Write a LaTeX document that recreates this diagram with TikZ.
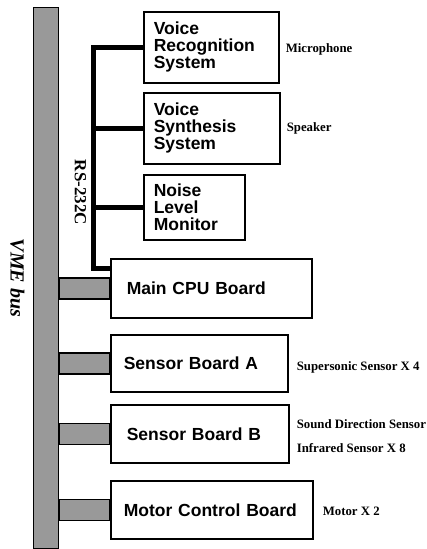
\documentclass[tikz,border=0pt]{standalone}
\usepackage{fontspec}
\setmainfont{Liberation Serif}
\newfontfamily\boardfont{Liberation Sans}
\usepackage{tikz}
\usetikzlibrary{positioning}
\tikzset{every node/.style={font=\small}}

\begin{document}
\begin{tikzpicture}[
  x=1pt, y=-1pt,
  board/.style={
    draw,
    line width=1.6pt,
    anchor=north west,
    align=left,
    inner xsep=13pt,
    inner ysep=0pt,
    font=\boardfont\bfseries\fontsize{17.5}{17}\selectfont
  },
  busfill/.style={draw, line width=1.4pt, fill=black!40},
  rsline/.style={line width=5pt},
  devlabel/.style={inner sep=0pt, align=left,
    font=\bfseries\fontsize{12.8}{24}\selectfont}
]
\useasboundingbox (0,0) rectangle (427,549);

\node (bus) [busfill, anchor=north west, inner sep=0pt,
  minimum width=25pt, minimum height=541pt] at (33,7) {};
\node (vme) [rotate=-90, font=\bfseries\itshape\fontsize{20}{20}\selectfont]
  at (17.5,278) {VME bus};

\node (vr) [board, inner xsep=10pt, text width=115pt, minimum height=71pt]
  at (143,11) {Voice\\Recognition\\System};
\node (vs) [board, inner xsep=10pt, text width=116pt, minimum height=71pt]
  at (143,92) {Voice\\Synthesis\\System};
\node (nlm) [board, inner xsep=10pt, text width=81pt, minimum height=65pt]
  at (143,174) {Noise\\Level\\Monitor};

\node (cpu) [board, inner xsep=16pt, text width=169pt, minimum height=59pt]
  at (110,258) {Main CPU Board};
\node (sa) [board, text width=151pt, minimum height=57pt]
  at (110,334) {Sensor Board A};
\node (sb) [board, inner xsep=16pt, text width=146pt, minimum height=58pt]
  at (110,404) {Sensor Board B};
\node (mc) [board, text width=176pt, minimum height=58pt]
  at (110,480) {Motor Control Board};

\node (mic) [devlabel, right=6pt of vr, yshift=-2.5pt] {Microphone};
\node (spk) [devlabel, right=6pt of vs] {Speaker};
\node (sonic) [devlabel, right=8pt of sa, yshift=-4pt] {Supersonic Sensor X 4};
\node (sdir) [devlabel, right=7pt of sb, yshift=-2pt]
  {Sound Direction Sensor\\Infrared Sensor X 8};
\node (mot) [devlabel, right=9pt of mc, yshift=-2pt] {Motor X 2};

\foreach \b in {cpu,sa,sb,mc}
  \draw[busfill] ([yshift=10.5pt]\b.west) rectangle ([yshift=-10.5pt]\b.west -| bus.east);

\coordinate (rsbot) at (93.5,268);
\draw[rsline] (vr.west) -| (rsbot) -- (rsbot -| cpu.west);
\draw[rsline] (vs.west) -- (vs.west -| rsbot);
\draw[rsline] (nlm.west) -- (nlm.west -| rsbot);
\node (rs) [rotate=-90, font=\bfseries\fontsize{17}{17}\selectfont]
  at (80.5,192.5) {RS-232C};

\end{tikzpicture}
\end{document}
